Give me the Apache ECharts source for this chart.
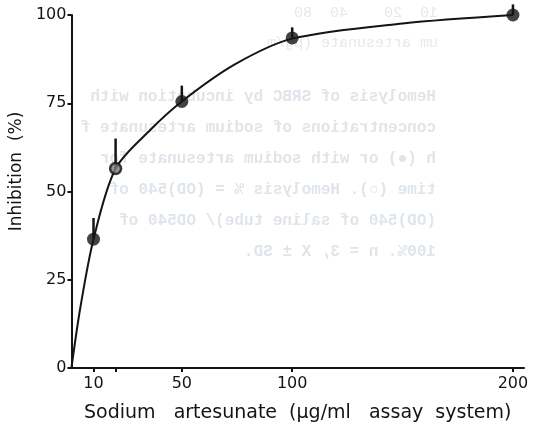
<!DOCTYPE html>
<html>
<head>
<meta charset="utf-8">
<script src="https://cdn.jsdelivr.net/npm/echarts@6/dist/echarts.min.js"></script>
<style>
html,body{margin:0;padding:0;background:#fff;}
#chart{width:551px;height:432px;}
</style>
</head>
<body>
<div id="chart"></div>
<script>
// ---- data ----
const concentrations = [10, 20, 50, 100, 200];           // µg/ml
const inhibition     = [36.5, 56.5, 75.5, 93.5, 100];    // %
const sd             = [6, 8.5, 4.5, 3, 3];              // upward error bar
// hand-drawn fitted curve
const curveX         = [0, 4, 10, 20, 35, 50, 74, 100, 150, 200];
const curveY         = [0, 17, 36.5, 56.5, 67, 75.5, 86, 93.3, 97.6, 100];
const xTickValues    = [10, 20, 50, 100, 200];
const xLabelValues   = [10, 50, 100, 200];
const yTickValues    = [0, 25, 50, 75, 100];
const hollowIndex    = [1];
// faint show-through text from the reverse page
const bleedLines = [
  "Hemolysis of SRBC by incubation with",
  "concentrations of sodium artesunate f",
  "h (\u25CF) or with sodium artesunate for",
  "time (\u25CB). Hemolysis % = (OD)540 of",
  "(OD)540 of saline tube)/ OD540 of",
  "100%. n = 3, X \u00B1 SD."
];
const bleedTop = ["10  20    40  80", "um artesunate (\u00B5g/m"];

const ink = '#141414';
const chart = echarts.init(document.getElementById('chart'));

const bleedY = [97, 128, 159, 190, 221, 252];
const graphics = [];
bleedLines.forEach((t, i) => graphics.push({
  type: 'text', x: 436, y: bleedY[i], scaleX: -1, silent: true, z: -10,
  style: { text: t, fill: '#dfe5ea', font: 'bold 16px "Liberation Mono"', textAlign: 'left', textVerticalAlign: 'middle' }
}));
[13, 43].forEach((yy, i) => graphics.push({
  type: 'text', x: 438, y: yy, scaleX: -1, silent: true, z: -10,
  style: { text: bleedTop[i], fill: '#e5e9ed', font: '15px "Liberation Mono"', textAlign: 'left', textVerticalAlign: 'middle' }
}));

const filled = [], hollow = [];
concentrations.forEach((x, i) => {
  (hollowIndex.includes(i) ? hollow : filled).push([x, inhibition[i]]);
});

chart.setOption({
  animation: false,
  backgroundColor: '#fff',
  graphic: graphics,
  grid: { left: 70, right: 27, top: 15, bottom: 64 },
  xAxis: {
    type: 'value', min: 0, max: 205,
    name: 'Sodium   artesunate  (\u00B5g/ml   assay  system)',
    nameLocation: 'middle', nameGap: 36,
    nameTextStyle: { fontFamily: 'DejaVu Sans', fontSize: 19, color: ink },
    axisLine: { show: true, lineStyle: { color: ink, width: 2 } },
    axisTick: { show: true, customValues: xTickValues, length: 4, lineStyle: { color: ink, width: 2 } },
    axisLabel: { customValues: xLabelValues, margin: 8, fontFamily: 'DejaVu Sans', fontSize: 16, color: ink },
    splitLine: { show: false }
  },
  yAxis: {
    type: 'value', min: 0, max: 100, interval: 25,
    name: 'Inhibition  (%)',
    nameLocation: 'middle', nameGap: 29, nameRotate: 90,
    nameTextStyle: { fontFamily: 'DejaVu Sans', fontSize: 17, color: ink, padding: [0, 0, 0, 40] },
    axisLine: { show: true, lineStyle: { color: ink, width: 2 } },
    axisTick: { show: true, length: 4, lineStyle: { color: ink, width: 2 } },
    axisLabel: { margin: 5, fontFamily: 'DejaVu Sans', fontSize: 16, color: ink,
      formatter: v => yTickValues.includes(v) ? String(v) : '' },
    splitLine: { show: false }
  },
  series: [
    {
      type: 'line', data: curveX.map((x, i) => [x, curveY[i]]),
      smooth: 0.3, showSymbol: false, symbol: 'none',
      lineStyle: { color: ink, width: 2 }, z: 2
    },
    {
      type: 'custom', clip: false, z: 3,
      data: concentrations.map((x, i) => [x, inhibition[i], inhibition[i] + sd[i]]),
      renderItem: (params, api) => {
        const p0 = api.coord([api.value(0), api.value(1)]);
        const p1 = api.coord([api.value(0), api.value(2)]);
        return { type: 'line', shape: { x1: p0[0], y1: p0[1], x2: p1[0], y2: p1[1] },
                 style: { stroke: ink, lineWidth: 2.5 } };
      }
    },
    {
      type: 'scatter', data: filled, symbol: 'circle', symbolSize: 13, z: 4,
      itemStyle: { color: ink }
    },
    {
      type: 'scatter', data: hollow, symbol: 'circle', symbolSize: 11, z: 4,
      itemStyle: { color: '#7a7a7a', borderColor: ink, borderWidth: 2.5 }
    }
  ]
});
</script>
</body>
</html>
